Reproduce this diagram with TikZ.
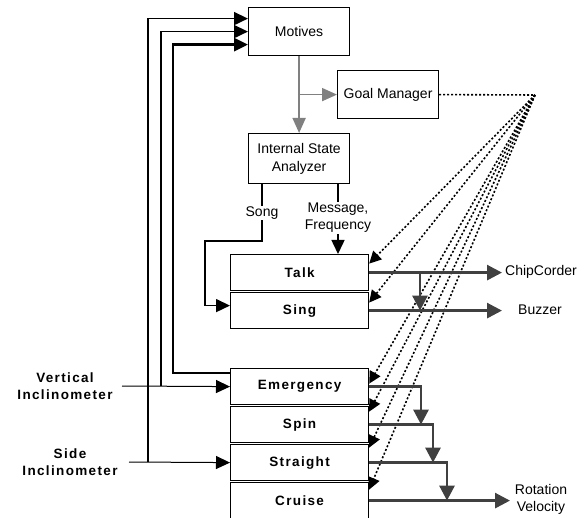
\documentclass[tikz,border=0pt]{standalone}
\usepackage{fontspec}
\setmainfont{Liberation Sans}
\newfontfamily\spbold[LetterSpace=10]{Liberation Sans}
\usetikzlibrary{arrows.meta}
\definecolor{dk}{HTML}{404040}
\definecolor{gr}{HTML}{808080}
\tikzset{
  box/.style={draw, line width=1.2pt, fill=white, inner sep=0pt, anchor=north west,
    font=\fontsize{14}{18}\selectfont, align=center},
  beh/.style={box, minimum width=138pt, minimum height=36pt, font=\fontsize{13.5}{16}\selectfont\spbold\bfseries},
  lbl/.style={font=\fontsize{14}{17}\selectfont, align=center, inner sep=1pt},
  blbl/.style={font=\fontsize{13.5}{17}\selectfont\spbold\bfseries, align=center, inner sep=1pt},
  blk/.style={-{Triangle[length=14pt,width=13pt]}},
  grarr/.style={draw=gr, line width=1.8pt, -{Triangle[length=15pt,width=13pt]}, color=gr},
  dotline/.style={line width=1.6pt, dash pattern=on 2pt off 2pt},
  dotarr/.style={dotline, -{Triangle[length=12pt,width=12pt]}},
  outarr/.style={draw=dk, color=dk, line width=2.8pt, -{Triangle[length=15pt,width=15pt]}},
}
\begin{document}
\begin{tikzpicture}[x=1pt,y=-1pt]
\useasboundingbox (0,0) rectangle (586,518);
% boxes
\node[box, minimum width=101pt, minimum height=48pt] (mot) at (248,7) {Motives};
\node[box, minimum width=101pt, minimum height=48pt] (gm) at (337,70) {Goal Manager};
\node[box, minimum width=101pt, minimum height=50pt] (isa) at (248,133) {Internal State\\Analyzer};
\node[beh] (talk) at (230,254) {Talk};
\node[beh] (sing) at (230,292) {Sing};
\node[beh] (emg) at (230,368) {Emergency};
\node[beh] (spin) at (230,406) {Spin};
\node[beh] (str) at (230,444) {Straight};
\node[beh] (cru) at (230,482) {Cruise};
% coordinates
\coordinate (vi) at (122,386);
\coordinate (si) at (129,462);
\coordinate (xa) at (148,0);
\coordinate (xb) at (161,0);
\coordinate (xc) at (173,0);
\coordinate (s1) at (262,0);
\coordinate (sbend) at (205,241);
\coordinate (m1) at (338,0);
\coordinate (hub) at (535,95);
\coordinate (b1) at (420,0);
\coordinate (e1) at (502,0);
\coordinate (c1) at (421,0);
\coordinate (c2) at (433,0);
\coordinate (c3) at (447,0);
\coordinate (e3) at (510,0);
% inputs
\node[blbl] (vlab) at (65,386) {Vertical\\Inclinometer};
\node[blbl] (slab) at (70,462) {Side\\Inclinometer};
\draw[blk, line width=1pt] (vi) -- (emg.west);
\draw[blk, line width=1pt] (si) -- (str.west);
% feedback to motives
\draw[blk, line width=1.8pt] (si -| xa) |- ([yshift=13pt]mot.west);
\draw[blk, line width=1.8pt] (vi -| xb) |- (mot.west);
\draw[blk, line width=2.8pt] ([yshift=-5pt]emg.north west) -- ([yshift=-5pt]emg.north west -| xc) |- ([yshift=-13pt]mot.west);
% gray arrows
\draw[grarr] (mot.south) -- (isa.north);
\draw[grarr] (mot.south |- gm.west) -- (gm.west);
% song / message
\draw[blk, line width=1.5pt] (isa.south -| s1) |- (sbend) |- ([yshift=5pt]sing.west);
\node[lbl, fill=white] (songl) at (262,213) {Song};
\draw[blk, line width=1.5pt] (isa.south -| m1) -- (talk.north -| m1);
\node[lbl, fill=white] (msgl) at (338,218) {Message,\\Frequency};
% dotted
\draw[dotline] (gm.east) -- (hub);
\draw[dotarr] (hub) -- ([yshift=9pt]talk.east);
\draw[dotarr] (hub) -- ([yshift=8pt]sing.east);
\draw[dotarr] (hub) -- ([yshift=3pt]emg.east);
\draw[dotarr] (hub) -- ([yshift=13pt]spin.east);
\draw[dotarr] (hub) -- ([yshift=15pt]str.east);
\draw[dotarr] (hub) -- ([yshift=11pt]cru.east);
% outputs
\draw[outarr] (talk.east) -- (talk.east -| e1);
\draw[outarr] (talk.east -| b1) -- (sing.east -| b1);
\draw[outarr] (sing.east) -- (sing.east -| e1);
\draw[outarr] (emg.east) -| (c1 |- spin.east);
\draw[outarr] (spin.east) -| (c2 |- str.east);
\draw[outarr] (str.east) -| (c3 |- cru.east);
\draw[outarr] (cru.east) -- (cru.east -| e3);
\node[lbl, anchor=west] (chip) at (504,272) {ChipCorder};
\node[lbl, anchor=west] (buz) at (517,310) {Buzzer};
\node[lbl] (rot) at (541,499) {Rotation\\Velocity};
\end{tikzpicture}
\end{document}
